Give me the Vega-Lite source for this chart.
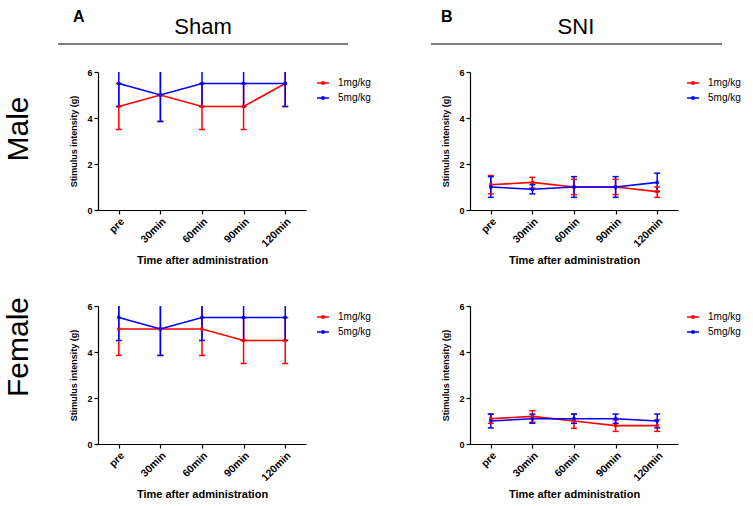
{
  "$schema": "https://vega.github.io/schema/vega-lite/v6.json",
  "background": "white",
  "padding": {"left": 3, "top": 8, "right": 0, "bottom": 0},
  "config": {
    "font": "Liberation Sans",
    "view": {"stroke": null},
    "axis": {"grid": false, "domainColor": "black", "domainWidth": 1.2, "tickColor": "black", "tickWidth": 1.2, "tickSize": 4, "labelColor": "black", "labelFontWeight": "bold", "labelFontSize": 9, "titleColor": "black", "titleFontWeight": "bold"},
    "axisX": {"labelFontSize": 10.5, "titleFontSize": 11, "titlePadding": 5},
    "axisY": {"labelFontSize": 9, "titleFontSize": 9, "titlePadding": 8},
    "legend": {"padding": 4}
  },
  "datasets": {
    "main": [
      {"surgery": "Sham", "sex": "Male", "dose": "1mg/kg", "time": "pre", "mean": 4.5, "lo": 3.5, "hi": 5.5},
      {"surgery": "Sham", "sex": "Male", "dose": "1mg/kg", "time": "30min", "mean": 5.0, "lo": 3.85, "hi": 6.15},
      {"surgery": "Sham", "sex": "Male", "dose": "1mg/kg", "time": "60min", "mean": 4.5, "lo": 3.5, "hi": 5.5},
      {"surgery": "Sham", "sex": "Male", "dose": "1mg/kg", "time": "90min", "mean": 4.5, "lo": 3.5, "hi": 5.5},
      {"surgery": "Sham", "sex": "Male", "dose": "1mg/kg", "time": "120min", "mean": 5.5, "lo": 4.5, "hi": 6.5},
      {"surgery": "Sham", "sex": "Male", "dose": "5mg/kg", "time": "pre", "mean": 5.5, "lo": 4.5, "hi": 6.5},
      {"surgery": "Sham", "sex": "Male", "dose": "5mg/kg", "time": "30min", "mean": 5.0, "lo": 3.85, "hi": 6.15},
      {"surgery": "Sham", "sex": "Male", "dose": "5mg/kg", "time": "60min", "mean": 5.5, "lo": 4.5, "hi": 6.5},
      {"surgery": "Sham", "sex": "Male", "dose": "5mg/kg", "time": "90min", "mean": 5.5, "lo": 4.5, "hi": 6.5},
      {"surgery": "Sham", "sex": "Male", "dose": "5mg/kg", "time": "120min", "mean": 5.5, "lo": 4.5, "hi": 6.5},
      {"surgery": "Sham", "sex": "Female", "dose": "1mg/kg", "time": "pre", "mean": 5.0, "lo": 3.85, "hi": 6.15},
      {"surgery": "Sham", "sex": "Female", "dose": "1mg/kg", "time": "30min", "mean": 5.0, "lo": 3.85, "hi": 6.15},
      {"surgery": "Sham", "sex": "Female", "dose": "1mg/kg", "time": "60min", "mean": 5.0, "lo": 3.85, "hi": 6.15},
      {"surgery": "Sham", "sex": "Female", "dose": "1mg/kg", "time": "90min", "mean": 4.5, "lo": 3.5, "hi": 5.5},
      {"surgery": "Sham", "sex": "Female", "dose": "1mg/kg", "time": "120min", "mean": 4.5, "lo": 3.5, "hi": 5.5},
      {"surgery": "Sham", "sex": "Female", "dose": "5mg/kg", "time": "pre", "mean": 5.5, "lo": 4.5, "hi": 6.5},
      {"surgery": "Sham", "sex": "Female", "dose": "5mg/kg", "time": "30min", "mean": 5.0, "lo": 3.85, "hi": 6.15},
      {"surgery": "Sham", "sex": "Female", "dose": "5mg/kg", "time": "60min", "mean": 5.5, "lo": 4.5, "hi": 6.5},
      {"surgery": "Sham", "sex": "Female", "dose": "5mg/kg", "time": "90min", "mean": 5.5, "lo": 4.5, "hi": 6.5},
      {"surgery": "Sham", "sex": "Female", "dose": "5mg/kg", "time": "120min", "mean": 5.5, "lo": 4.5, "hi": 6.5},
      {"surgery": "SNI", "sex": "Male", "dose": "1mg/kg", "time": "pre", "mean": 1.1, "lo": 0.7, "hi": 1.5},
      {"surgery": "SNI", "sex": "Male", "dose": "1mg/kg", "time": "30min", "mean": 1.2, "lo": 0.95, "hi": 1.42},
      {"surgery": "SNI", "sex": "Male", "dose": "1mg/kg", "time": "60min", "mean": 1.0, "lo": 0.67, "hi": 1.33},
      {"surgery": "SNI", "sex": "Male", "dose": "1mg/kg", "time": "90min", "mean": 1.0, "lo": 0.67, "hi": 1.33},
      {"surgery": "SNI", "sex": "Male", "dose": "1mg/kg", "time": "120min", "mean": 0.8, "lo": 0.55, "hi": 1.0},
      {"surgery": "SNI", "sex": "Male", "dose": "5mg/kg", "time": "pre", "mean": 1.0, "lo": 0.55, "hi": 1.45},
      {"surgery": "SNI", "sex": "Male", "dose": "5mg/kg", "time": "30min", "mean": 0.9, "lo": 0.7, "hi": 1.1},
      {"surgery": "SNI", "sex": "Male", "dose": "5mg/kg", "time": "60min", "mean": 1.0, "lo": 0.55, "hi": 1.45},
      {"surgery": "SNI", "sex": "Male", "dose": "5mg/kg", "time": "90min", "mean": 1.0, "lo": 0.55, "hi": 1.45},
      {"surgery": "SNI", "sex": "Male", "dose": "5mg/kg", "time": "120min", "mean": 1.2, "lo": 0.8, "hi": 1.6},
      {"surgery": "SNI", "sex": "Female", "dose": "1mg/kg", "time": "pre", "mean": 1.1, "lo": 0.9, "hi": 1.3},
      {"surgery": "SNI", "sex": "Female", "dose": "1mg/kg", "time": "30min", "mean": 1.2, "lo": 0.95, "hi": 1.45},
      {"surgery": "SNI", "sex": "Female", "dose": "1mg/kg", "time": "60min", "mean": 1.0, "lo": 0.68, "hi": 1.3},
      {"surgery": "SNI", "sex": "Female", "dose": "1mg/kg", "time": "90min", "mean": 0.8, "lo": 0.55, "hi": 1.05},
      {"surgery": "SNI", "sex": "Female", "dose": "1mg/kg", "time": "120min", "mean": 0.8, "lo": 0.55, "hi": 1.05},
      {"surgery": "SNI", "sex": "Female", "dose": "5mg/kg", "time": "pre", "mean": 1.0, "lo": 0.7, "hi": 1.3},
      {"surgery": "SNI", "sex": "Female", "dose": "5mg/kg", "time": "30min", "mean": 1.1, "lo": 0.9, "hi": 1.3},
      {"surgery": "SNI", "sex": "Female", "dose": "5mg/kg", "time": "60min", "mean": 1.1, "lo": 0.9, "hi": 1.3},
      {"surgery": "SNI", "sex": "Female", "dose": "5mg/kg", "time": "90min", "mean": 1.1, "lo": 0.9, "hi": 1.3},
      {"surgery": "SNI", "sex": "Female", "dose": "5mg/kg", "time": "120min", "mean": 1.0, "lo": 0.7, "hi": 1.3}
    ]
  },
  "resolve": {"scale": {"color": "independent"}, "legend": {"color": "independent"}},
  "spacing": 23,
  "vconcat": [
    {
      "spacing": 81,
      "hconcat": [
        {
          "width": 250, "height": 35,
          "data": {"values": [{"label": "Sham", "letter": "A"}]},
          "layer": [
            {"mark": {"type": "rule", "color": "black", "strokeWidth": 1.2, "xOffset": -40},
             "encoding": {"x": {"datum": 0, "type": "quantitative", "scale": {"domain": [0, 1]}, "axis": null}, "x2": {"datum": 1}, "y": {"datum": 0, "type": "quantitative", "scale": {"domain": [0, 1]}, "axis": null}}},
            {"mark": {"type": "text", "fontSize": 22, "baseline": "alphabetic", "align": "center", "color": "black"},
             "encoding": {"x": {"datum": 0.42, "type": "quantitative"}, "y": {"datum": 0.286, "type": "quantitative"}, "text": {"field": "label"}}},
            {"mark": {"type": "text", "fontSize": 16, "fontWeight": "bold", "baseline": "alphabetic", "align": "left", "color": "black", "xOffset": -25},
             "encoding": {"x": {"datum": 0, "type": "quantitative"}, "y": {"datum": 0.63, "type": "quantitative"}, "text": {"field": "letter"}}}
          ]
        },
        {
          "width": 291, "height": 35,
          "data": {"values": [{"label": "SNI", "letter": "B"}]},
          "layer": [
            {"mark": {"type": "rule", "color": "black", "strokeWidth": 1.2},
             "encoding": {"x": {"datum": 0, "type": "quantitative", "scale": {"domain": [0, 1]}, "axis": null}, "x2": {"datum": 1}, "y": {"datum": 0, "type": "quantitative", "scale": {"domain": [0, 1]}, "axis": null}}},
            {"mark": {"type": "text", "fontSize": 22, "baseline": "alphabetic", "align": "center", "color": "black"},
             "encoding": {"x": {"datum": 0.498, "type": "quantitative"}, "y": {"datum": 0.286, "type": "quantitative"}, "text": {"field": "label"}}},
            {"mark": {"type": "text", "fontSize": 16, "fontWeight": "bold", "baseline": "alphabetic", "align": "left", "color": "black"},
             "encoding": {"x": {"datum": 0.034, "type": "quantitative"}, "y": {"datum": 0.63, "type": "quantitative"}, "text": {"field": "letter"}}}
          ]
        }
      ]
    },
    {
      "spacing": 30,
      "resolve": {"scale": {"color": "independent"}, "legend": {"color": "independent"}},
      "vconcat": [
        {
          "spacing": 66,
          "resolve": {"scale": {"color": "independent"}, "legend": {"color": "independent"}},
          "hconcat": [
            {
              "title": {"text": "Male", "orient": "left", "anchor": "middle", "fontSize": 30, "fontWeight": "normal", "color": "black", "offset": 36, "dx": 12},
              "width": 208, "height": 138,
              "data": {"name": "main"},
              "transform": [{"filter": "datum.surgery === 'Sham' && datum.sex === 'Male'"}],
              "encoding": {
                "x": {"field": "time", "type": "ordinal", "sort": ["pre", "30min", "60min", "90min", "120min"], "scale": {"type": "point", "padding": 0.5}, "axis": {"title": "Time after administration", "labelAngle": -45}},
                "color": {"field": "dose", "type": "nominal", "scale": {"domain": ["1mg/kg", "5mg/kg"], "range": ["#ff0000", "#0000ff"]}, "legend": {"title": null, "orient": "right", "offset": 6, "symbolType": "M-1,0H1M-0.15,-0.15H0.15V0.15H-0.15Z", "symbolSize": 144, "symbolStrokeWidth": 1.5, "labelFontSize": 10, "labelOffset": 8, "labelColor": "black", "rowPadding": 3}}
              },
              "layer": [
                {"mark": {"type": "rule", "clip": true, "strokeWidth": 1.5}, "encoding": {"y": {"field": "lo", "type": "quantitative", "scale": {"domain": [0, 6], "nice": false}, "axis": {"values": [0, 2, 4, 6], "title": "Stimulus intensity (g)"}}, "y2": {"field": "hi"}}},
                {"mark": {"type": "tick", "clip": true, "size": 6, "thickness": 1.5, "opacity": 1}, "encoding": {"y": {"field": "lo", "type": "quantitative", "title": "Stimulus intensity (g)"}}},
                {"mark": {"type": "tick", "clip": true, "size": 6, "thickness": 1.5, "opacity": 1}, "encoding": {"y": {"field": "hi", "type": "quantitative", "title": "Stimulus intensity (g)"}}},
                {"mark": {"type": "line", "strokeWidth": 1.6}, "encoding": {"y": {"field": "mean", "type": "quantitative", "title": "Stimulus intensity (g)"}}},
                {"mark": {"type": "point", "shape": "square", "filled": true, "size": 10, "opacity": 1}, "encoding": {"y": {"field": "mean", "type": "quantitative", "title": "Stimulus intensity (g)"}}}
              ]
            },
            {
              "width": 208, "height": 138,
              "data": {"name": "main"},
              "transform": [{"filter": "datum.surgery === 'SNI' && datum.sex === 'Male'"}],
              "encoding": {
                "x": {"field": "time", "type": "ordinal", "sort": ["pre", "30min", "60min", "90min", "120min"], "scale": {"type": "point", "padding": 0.5}, "axis": {"title": "Time after administration", "labelAngle": -45}},
                "color": {"field": "dose", "type": "nominal", "scale": {"domain": ["1mg/kg", "5mg/kg"], "range": ["#ff0000", "#0000ff"]}, "legend": {"title": null, "orient": "right", "offset": 4, "symbolType": "M-1,0H1M-0.15,-0.15H0.15V0.15H-0.15Z", "symbolSize": 144, "symbolStrokeWidth": 1.5, "labelFontSize": 10, "labelOffset": 8, "labelColor": "black", "rowPadding": 3}}
              },
              "layer": [
                {"mark": {"type": "rule", "clip": true, "strokeWidth": 1.5}, "encoding": {"y": {"field": "lo", "type": "quantitative", "scale": {"domain": [0, 6], "nice": false}, "axis": {"values": [0, 2, 4, 6], "title": "Stimulus intensity (g)"}}, "y2": {"field": "hi"}}},
                {"mark": {"type": "tick", "clip": true, "size": 6, "thickness": 1.5, "opacity": 1}, "encoding": {"y": {"field": "lo", "type": "quantitative", "title": "Stimulus intensity (g)"}}},
                {"mark": {"type": "tick", "clip": true, "size": 6, "thickness": 1.5, "opacity": 1}, "encoding": {"y": {"field": "hi", "type": "quantitative", "title": "Stimulus intensity (g)"}}},
                {"mark": {"type": "line", "strokeWidth": 1.6}, "encoding": {"y": {"field": "mean", "type": "quantitative", "title": "Stimulus intensity (g)"}}},
                {"mark": {"type": "point", "shape": "square", "filled": true, "size": 10, "opacity": 1}, "encoding": {"y": {"field": "mean", "type": "quantitative", "title": "Stimulus intensity (g)"}}}
              ]
            }
          ]
        },
        {
          "spacing": 66,
          "resolve": {"scale": {"color": "independent"}, "legend": {"color": "independent"}},
          "hconcat": [
            {
              "title": {"text": "Female", "orient": "left", "anchor": "middle", "fontSize": 30, "fontWeight": "normal", "color": "black", "offset": 36, "dx": 28},
              "width": 208, "height": 138,
              "data": {"name": "main"},
              "transform": [{"filter": "datum.surgery === 'Sham' && datum.sex === 'Female'"}],
              "encoding": {
                "x": {"field": "time", "type": "ordinal", "sort": ["pre", "30min", "60min", "90min", "120min"], "scale": {"type": "point", "padding": 0.5}, "axis": {"title": "Time after administration", "labelAngle": -45}},
                "color": {"field": "dose", "type": "nominal", "scale": {"domain": ["1mg/kg", "5mg/kg"], "range": ["#ff0000", "#0000ff"]}, "legend": {"title": null, "orient": "right", "offset": 6, "symbolType": "M-1,0H1M-0.15,-0.15H0.15V0.15H-0.15Z", "symbolSize": 144, "symbolStrokeWidth": 1.5, "labelFontSize": 10, "labelOffset": 8, "labelColor": "black", "rowPadding": 3}}
              },
              "layer": [
                {"mark": {"type": "rule", "clip": true, "strokeWidth": 1.5}, "encoding": {"y": {"field": "lo", "type": "quantitative", "scale": {"domain": [0, 6], "nice": false}, "axis": {"values": [0, 2, 4, 6], "title": "Stimulus intensity (g)"}}, "y2": {"field": "hi"}}},
                {"mark": {"type": "tick", "clip": true, "size": 6, "thickness": 1.5, "opacity": 1}, "encoding": {"y": {"field": "lo", "type": "quantitative", "title": "Stimulus intensity (g)"}}},
                {"mark": {"type": "tick", "clip": true, "size": 6, "thickness": 1.5, "opacity": 1}, "encoding": {"y": {"field": "hi", "type": "quantitative", "title": "Stimulus intensity (g)"}}},
                {"mark": {"type": "line", "strokeWidth": 1.6}, "encoding": {"y": {"field": "mean", "type": "quantitative", "title": "Stimulus intensity (g)"}}},
                {"mark": {"type": "point", "shape": "square", "filled": true, "size": 10, "opacity": 1}, "encoding": {"y": {"field": "mean", "type": "quantitative", "title": "Stimulus intensity (g)"}}}
              ]
            },
            {
              "width": 208, "height": 138,
              "data": {"name": "main"},
              "transform": [{"filter": "datum.surgery === 'SNI' && datum.sex === 'Female'"}],
              "encoding": {
                "x": {"field": "time", "type": "ordinal", "sort": ["pre", "30min", "60min", "90min", "120min"], "scale": {"type": "point", "padding": 0.5}, "axis": {"title": "Time after administration", "labelAngle": -45}},
                "color": {"field": "dose", "type": "nominal", "scale": {"domain": ["1mg/kg", "5mg/kg"], "range": ["#ff0000", "#0000ff"]}, "legend": {"title": null, "orient": "right", "offset": 4, "symbolType": "M-1,0H1M-0.15,-0.15H0.15V0.15H-0.15Z", "symbolSize": 144, "symbolStrokeWidth": 1.5, "labelFontSize": 10, "labelOffset": 8, "labelColor": "black", "rowPadding": 3}}
              },
              "layer": [
                {"mark": {"type": "rule", "clip": true, "strokeWidth": 1.5}, "encoding": {"y": {"field": "lo", "type": "quantitative", "scale": {"domain": [0, 6], "nice": false}, "axis": {"values": [0, 2, 4, 6], "title": "Stimulus intensity (g)"}}, "y2": {"field": "hi"}}},
                {"mark": {"type": "tick", "clip": true, "size": 6, "thickness": 1.5, "opacity": 1}, "encoding": {"y": {"field": "lo", "type": "quantitative", "title": "Stimulus intensity (g)"}}},
                {"mark": {"type": "tick", "clip": true, "size": 6, "thickness": 1.5, "opacity": 1}, "encoding": {"y": {"field": "hi", "type": "quantitative", "title": "Stimulus intensity (g)"}}},
                {"mark": {"type": "line", "strokeWidth": 1.6}, "encoding": {"y": {"field": "mean", "type": "quantitative", "title": "Stimulus intensity (g)"}}},
                {"mark": {"type": "point", "shape": "square", "filled": true, "size": 10, "opacity": 1}, "encoding": {"y": {"field": "mean", "type": "quantitative", "title": "Stimulus intensity (g)"}}}
              ]
            }
          ]
        }
      ]
    }
  ]
}
